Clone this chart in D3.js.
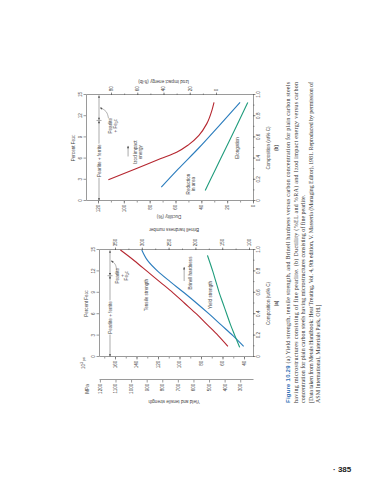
<!DOCTYPE html>
<html>
<head>
<meta charset="utf-8">
<script src="https://cdn.jsdelivr.net/npm/d3@7"></script>
<style>
  body { margin: 0; background: #fff; }
  svg text { font-family: "Liberation Sans", Arial, sans-serif; fill: #444; }
  .ax path, .ax line { stroke: #555; stroke-width: 0.6; }
  .ax text { font-size: 4.6px; fill: #444; }
  .lbl { font-size: 4.6px; }
  .cap { font-family: "Liberation Serif", "Times New Roman", serif; font-size: 6px; fill: #333; }
</style>
</head>
<body>
<script>
// ---- data ----
const phaseBounds = [0, 0.76, 1.0];          // wt% C: pearlite+ferrite | pearlite+Fe3C
const compTicks   = [0, 0.2, 0.4, 0.6, 0.8, 1.0];
const fe3cTicks   = [0, 3, 6, 9, 12, 15];

// (a) strength + hardness
const compTensile = [0.1, 0.2, 0.3, 0.4, 0.5, 0.6, 0.7, 0.8, 0.9, 1.0];
const tensileKsi  = [55, 64, 74, 84, 95, 106, 118, 130, 142, 155];
const compBrinell = [0.1, 0.2, 0.3, 0.4, 0.5, 0.6, 0.7, 0.8, 0.9, 1.0];
const brinellHB   = [110, 130, 152, 174, 197, 221, 246, 270, 289, 300];
const compYield   = [0.09, 0.2, 0.3, 0.4, 0.5, 0.6, 0.7, 0.8, 0.95];
const yieldKsi    = [44, 48.5, 52.5, 56, 59.5, 63, 66, 69, 74];
const ksiTicks    = [40, 60, 80, 100, 120, 140, 160];
const mpaTicks    = [300, 400, 500, 600, 700, 800, 900, 1000, 1100, 1200];
const hbTicks     = [100, 150, 200, 250, 300, 350];

// (b) ductility + impact
const compIzod = [0.2, 0.3, 0.4, 0.46, 0.53, 0.62, 0.73, 0.86, 0.93];
const izodFtLb = [82, 62, 42, 30, 21, 13, 7, 3, 1.5];
const compRA   = [0.13, 0.3, 0.5, 0.7, 0.93];
const raPct    = [71, 58, 42, 27, 10];
const compEL   = [0.1, 0.3, 0.5, 0.7, 0.93];
const elPct    = [37, 29, 21, 13, 4];
const ductTicks = [0, 20, 40, 60, 80, 100, 120];
const izodTicks = [0, 20, 40, 60, 80];

const captionLines = [
  "(a) Yield strength, tensile strength, and Brinell hardness versus carbon concentration for plain carbon steels",
  "having microstructures consisting of fine pearlite. (b) Ductility (%EL and %RA) and Izod impact energy versus carbon",
  "concentration for plain carbon steels having microstructures consisting of fine pearlite.",
  "[Data taken from Metals Handbook: Heat Treating, Vol. 4, 9th edition, V. Masseria (Managing Editor), 1981. Reproduced by permission of",
  "ASM International, Materials Park, OH.]"
];

const RED = "#b5262f", BLUE = "#2a7cbd", GREEN = "#1f9c7c";
const W = 383, H = 480;
const KSI_PER_MPA = 0.145038;

const svg = d3.select("body").append("svg").attr("width", W).attr("height", H);
svg.append("defs").append("marker")
    .attr("id", "ah").attr("viewBox", "0 0 6 6").attr("refX", 6).attr("refY", 3)
    .attr("markerUnits", "userSpaceOnUse").attr("markerWidth", 3).attr("markerHeight", 2.4)
    .attr("orient", "auto-start-reverse")
  .append("path").attr("d", "M0,0L6,3L0,6Z").attr("fill", "#555");

// the printed page is turned a quarter turn: build it upright, then rotate
const page = svg.append("g").attr("transform", `translate(0,${H}) rotate(-90)`);

// copy of a scale whose domain covers a whole pixel span (so the axis line spans the box)
function span(s, r0, r1) {
  return s.copy().domain([s.invert(r0), s.invert(r1)]).range([r0, r1]);
}

function drawAxis(gen, scale, major, minor, fmt, tx, ty) {
  const g = page.append("g").attr("class", "ax").attr("transform", `translate(${tx},${ty})`);
  g.call(gen(scale).tickValues(major).tickFormat(fmt).tickSize(2.5).tickSizeOuter(0).tickPadding(1.2));
  if (minor) {
    const m = page.append("g").attr("class", "ax").attr("transform", `translate(${tx},${ty})`);
    m.call(gen(scale).tickValues(minor).tickFormat("").tickSize(1.5).tickSizeOuter(0));
    m.select(".domain").remove();
  }
  return g;
}

const compFmt = d => d === 0 ? "0" : d.toFixed(1);
const pairs = (xs, ys) => xs.map((x, i) => [x, ys[i]]);

function curve(x, y, xs, ys, color) {
  page.append("path")
    .datum(pairs(xs, ys))
    .attr("fill", "none").attr("stroke", color).attr("stroke-width", 1.1)
    .attr("d", d3.line().x(d => x(d[0])).y(d => y(d[1])).curve(d3.curveMonotoneX));
}

function label(x, y, lines, opts = {}) {
  const lh = opts.lh || 5.2;
  const t = page.append("text").attr("class", "lbl")
    .attr("text-anchor", opts.anchor || "middle")
    .attr("transform", `translate(${x},${y})${opts.rot ? ` rotate(${opts.rot})` : ""}`);
  lines.forEach((ln, i) => {
    const ts = t.append("tspan").attr("x", 0).attr("y", (i - (lines.length - 1) / 2) * lh).attr("dy", "0.35em");
    [].concat(ln).forEach(p => {
      if (typeof p === "string") ts.append("tspan").text(p);
      else ts.append("tspan").attr("font-size", "70%").attr("dy", p.dy).text(p.t);
    });
  });
  return t;
}

const fe3cTitle = ["Percent Fe", { t: "3", dy: "0.25em" }, { t: "C", dy: "-0.25em" }];

function phaseLine(x, v, txtCenter, fe3cPos) {
  const segs = d3.pairs(phaseBounds);
  page.selectAll(null).data(segs).enter().append("line")
    .attr("x1", d => x(d[0]) + 0.4).attr("x2", d => x(d[1]) - 0.4)
    .attr("y1", v).attr("y2", v)
    .attr("stroke", "#555").attr("stroke-width", 0.5)
    .attr("marker-start", "url(#ah)").attr("marker-end", "url(#ah)");
  page.append("line")
    .attr("x1", x(phaseBounds[1])).attr("x2", x(phaseBounds[1]))
    .attr("y1", v - 2.5).attr("y2", v + 2.5).attr("stroke", "#555").attr("stroke-width", 0.5);
  label(x(txtCenter), v, ["Pearlite + ferrite"])
    .attr("stroke", "#fff").attr("stroke-width", 2.2).attr("paint-order", "stroke");
  label(x(fe3cPos.c), fe3cPos.v, fe3cPos.lines, { lh: 4.4 });
  page.append("path")
    .attr("fill", "none").attr("stroke", "#555").attr("stroke-width", 0.45)
    .attr("marker-end", "url(#ah)")
    .attr("d", d3.line().curve(d3.curveBasis)(fe3cPos.leader.map(p => [x(p[0]), p[1]])));
}

// ================= (a) =================
{
  const x = d3.scaleLinear().domain([0, 1]).range([123, 230]);
  const fe = d3.scaleLinear().domain([0, 15]).range([123, 230]);
  const ksi = span(d3.scaleLinear().domain([40, 160]).range([244, 115]), 253, 99);
  const mpa = span(d3.scaleLinear().domain([300, 1200])
                     .range([ksi(300 * KSI_PER_MPA), ksi(1200 * KSI_PER_MPA)]), 253, 99);
  const hb = span(d3.scaleLinear().domain([100, 350]).range([249, 115]), 253, 99);

  drawAxis(d3.axisBottom, x, compTicks, d3.range(0, 1.01, 0.1), compFmt, 0, 253);
  drawAxis(d3.axisTop, fe, fe3cTicks, null, d3.format("d"), 0, 99);
  drawAxis(d3.axisLeft, ksi, ksiTicks, d3.range(40, 171, 10), d3.format("d"), 123, 0);
  drawAxis(d3.axisLeft, mpa, mpaTicks, null, d3.format("d"), 100, 0);
  drawAxis(d3.axisRight, hb, hbTicks, d3.range(100, 351, 25), d3.format("d"), 230, 0);

  curve(x, ksi, compTensile, tensileKsi, RED);
  curve(x, hb, compBrinell, brinellHB, BLUE);
  curve(x, ksi, compYield, yieldKsi, GREEN);

  label(x(0.5), 268, ["Composition (wt% C)"]);
  page.append("text").attr("class", "lbl").attr("x", x(0.5)).attr("y", 277.5)
    .attr("text-anchor", "middle").attr("font-weight", "bold").text("(a)");
  label(x(0.5), 86, [fe3cTitle]);
  label(78, ksi(105), ["Yield and tensile strength"], { rot: -90 });
  label(250, ksi(105), ["Brinell hardness number"], { rot: -90 });
  label(117, 83, [["10", { t: "3", dy: "-0.35em" }, { t: " psi", dy: "0.35em" }]]);
  label(91, 87, ["MPa"]);

  label(x(0.58), ksi(131), ["Tensile strength"]);
  label(x(0.58), ksi(71.6), ["Yield strength"]);
  label(x(0.785), hb(210), ["Brinell hardness"]);
  page.append("line")
    .attr("x1", x(0.71)).attr("x2", x(0.84)).attr("y1", hb(221)).attr("y2", hb(221))
    .attr("stroke", "#555").attr("stroke-width", 0.5).attr("marker-end", "url(#ah)");

  phaseLine(x, 110, 0.37, {
    c: 0.76, v: 122,
    lines: ["Pearlite", "+", ["Fe", { t: "3", dy: "0.25em" }, { t: "C", dy: "-0.25em" }]],
    leader: [[0.81, 116.5], [0.87, 116], [0.9, 111]]
  });
}

// ================= (b) =================
{
  const x = d3.scaleLinear().domain([0, 1]).range([279, 385]);
  const fe = d3.scaleLinear().domain([0, 15]).range([279, 385]);
  const duct = span(d3.scaleLinear().domain([0, 120]).range([253, 98]), 253, 86);
  const izod = span(d3.scaleLinear().domain([0, 80]).range([216, 111]), 253, 86);

  drawAxis(d3.axisBottom, x, compTicks, d3.range(0, 1.01, 0.1), compFmt, 0, 253);
  drawAxis(d3.axisTop, fe, fe3cTicks, null, d3.format("d"), 0, 86);
  drawAxis(d3.axisLeft, duct, ductTicks, d3.range(0, 121, 10), d3.format("d"), 279, 0);
  drawAxis(d3.axisRight, izod, izodTicks, d3.range(0, 81, 10), d3.format("d"), 385, 0);

  curve(x, izod, compIzod, izodFtLb, RED);
  curve(x, duct, compRA, raPct, BLUE);
  curve(x, duct, compEL, elPct, GREEN);

  label(x(0.5), 268, ["Composition (wt% C)"]);
  page.append("text").attr("class", "lbl").attr("x", x(0.5)).attr("y", 277.5)
    .attr("text-anchor", "middle").attr("font-weight", "bold").text("(b)");
  label(x(0.5), 73, [fe3cTitle]);
  label(263, duct(65), ["Ductility (%)"], { rot: -90 });
  label(398, izod(40), ["Izod impact energy (ft-lb)"], { rot: -90 });

  label(x(0.46), izod(59.4), ["Izod impact", "energy"], { lh: 5.6 });
  page.append("line")
    .attr("x1", x(0.42)).attr("x2", x(0.52)).attr("y1", izod(67)).attr("y2", izod(67))
    .attr("stroke", "#555").attr("stroke-width", 0.5).attr("marker-end", "url(#ah)");
  label(x(0.16), duct(48), ["Reduction", "in area"], { lh: 5.6 });
  label(x(0.5), duct(12.4), ["Elongation"]);

  phaseLine(x, 99, 0.38, {
    c: 0.71, v: 113,
    lines: ["Pearlite", ["+ Fe", { t: "3", dy: "0.25em" }, { t: "C", dy: "-0.25em" }]],
    leader: [[0.78, 108.5], [0.85, 107], [0.88, 100]]
  });
}

// ================= caption =================
const capStart = 77, capWidth = 321;
const capBase = [290, 297.5, 305, 312.5, 320];
const justified = [true, true, false, true, false];
captionLines.forEach((ln, i) => {
  const t = page.append("text").attr("class", "cap").attr("x", capStart).attr("y", capBase[i]);
  if (i === 0) {
    t.append("tspan").text("Figure 10.29  ")
      .style("font-family", "'Liberation Sans', Arial, sans-serif")
      .style("font-weight", "bold").style("fill", "#2f6fb5");
  }
  t.append("tspan").text(ln);
  if (justified[i]) t.attr("textLength", capWidth).attr("lengthAdjust", "spacing");
});

// page number (upright on the page)
svg.append("text").attr("x", 333).attr("y", 472)
  .style("font-size", "8px").style("font-weight", "bold").style("fill", "#222")
  .text("·  385");
</script>
</body>
</html>
